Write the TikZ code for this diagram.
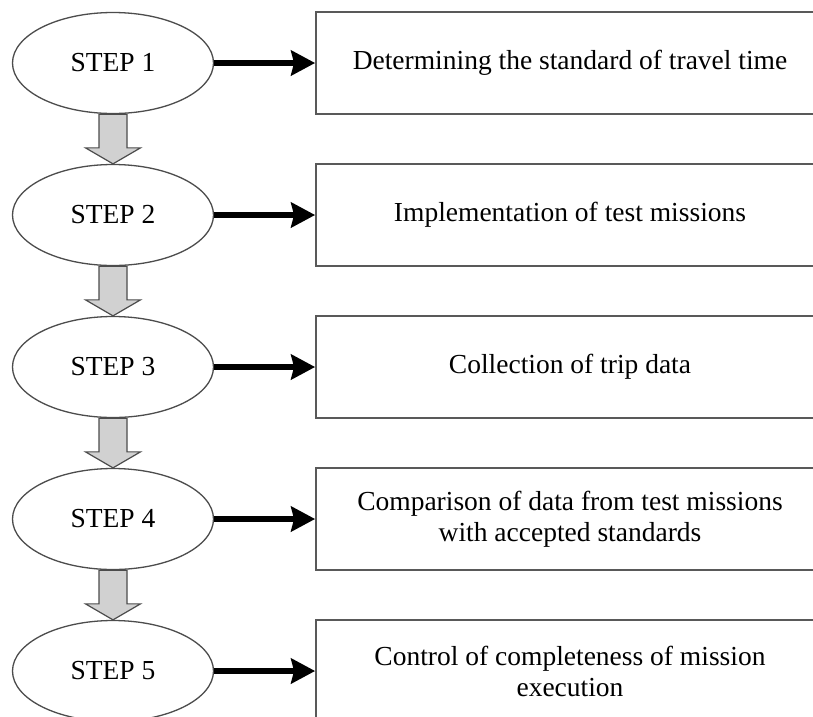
\documentclass[tikz,border=0pt]{standalone}
\usepackage{fontspec}
\setmainfont{Liberation Serif}
\usetikzlibrary{shapes.geometric,arrows.meta,calc}

\tikzset{
  stepnode/.style={ellipse, draw=black!70, line width=1.3pt, fill=white,
    minimum width=201pt, minimum height=101pt, inner sep=0pt,
    font=\fontsize{27.5}{31}\selectfont},
  taskbox/.style={rectangle, draw=black!65, line width=1.8pt, fill=white,
    minimum width=508pt, minimum height=102pt, inner sep=0pt, align=center,
    font=\fontsize{27.5}{31}\selectfont},
  conn/.style={line width=6.5pt, draw=black,
    -{Stealth[length=24pt, width=25pt, inset=3pt]}},
  blockarrow/.style={draw=black!70, line width=1.2pt, fill=black!18, line join=miter}
}

\begin{document}
\begin{tikzpicture}[x=1pt, y=-1pt]
  \useasboundingbox (0,0) rectangle (813,716);
  \clip (0,0) rectangle (813,716);
  \fill[white] (0,0) rectangle (813,716);

  % steps on the left
  \node[stepnode] (s1) at (113,63)  {STEP 1};
  \node[stepnode] (s2) at (113,215) {STEP 2};
  \node[stepnode] (s3) at (113,367) {STEP 3};
  \node[stepnode] (s4) at (113,519) {STEP 4};
  \node[stepnode] (s5) at (113,671) {STEP 5};

  % task descriptions on the right
  \node[taskbox] (b1) at (570,63)  {Determining the standard of travel time};
  \node[taskbox] (b2) at (570,215) {Implementation of test missions};
  \node[taskbox] (b3) at (570,367) {Collection of trip data};
  \node[taskbox] (b4) at (570,519) {Comparison of data from test missions\\with accepted standards};
  \node[taskbox] (b5) at (570,671) {Control of completeness of mission\\execution};

  % step to task connectors
  \foreach \i in {1,...,5} {
    \draw[conn] (s\i.east) -- (b\i.west);
  }

  % block arrows between consecutive steps
  \foreach \a/\b in {s1/s2, s2/s3, s3/s4, s4/s5} {
    \draw[blockarrow]
      ($(\a.south)+(-14,0)$) -- ($(\a.south)+(14,0)$)
      -- ($(\b.north)+(14,-16)$) -- ($(\b.north)+(27.5,-16)$)
      -- (\b.north)
      -- ($(\b.north)+(-27.5,-16)$) -- ($(\b.north)+(-14,-16)$) -- cycle;
  }
\end{tikzpicture}
\end{document}
